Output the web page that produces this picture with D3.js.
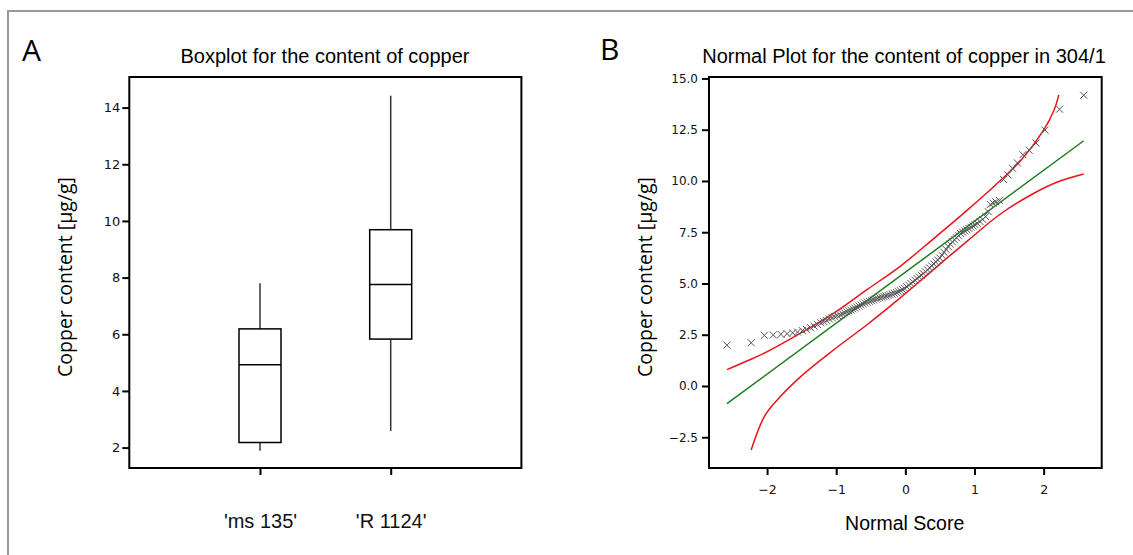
<!DOCTYPE html>
<html>
<head>
<meta charset="utf-8">
<script src="https://cdn.jsdelivr.net/npm/d3@7"></script>
<style>
  body { margin: 0; background: #fff; }
  svg { display: block; }
  .domain { display: none; }
  .tick line { stroke: #000; stroke-width: 2; }
</style>
</head>
<body>
<div id="chart"></div>
<script>
// Panel A: boxplot
const boxCats = ["'ms 135'", "'R 1124'"];
const boxMin = [1.89, 2.59];
const boxQ1 = [2.18, 5.83];
const boxMed = [4.92, 7.76];
const boxQ3 = [6.19, 9.69];
const boxMax = [7.80, 14.42];
const boxTicks = [2, 4, 6, 8, 10, 12, 14];

// Panel B: normal plot (normal score, copper content)
const normScore = [-2.58, -2.23, -2.04, -1.91, -1.80, -1.71, -1.63, -1.56, -1.49, -1.43,
  -1.37, -1.32, -1.27, -1.22, -1.18, -1.14, -1.10, -1.06, -1.02, -0.98,
  -0.94, -0.91, -0.88, -0.85, -0.82, -0.79, -0.76, -0.73, -0.70, -0.67,
  -0.64, -0.61, -0.58, -0.55, -0.52, -0.49, -0.46, -0.43, -0.40, -0.37,
  -0.34, -0.31, -0.28, -0.25, -0.22, -0.19, -0.16, -0.13, -0.10, -0.07,
  -0.04, -0.01, 0.02, 0.05, 0.08, 0.11, 0.14, 0.17, 0.20, 0.23,
  0.26, 0.29, 0.32, 0.35, 0.38, 0.41, 0.44, 0.47, 0.50, 0.53,
  0.56, 0.59, 0.62, 0.65, 0.68, 0.71, 0.74, 0.77, 0.80, 0.83,
  0.86, 0.89, 0.92, 0.95, 0.98, 1.01, 1.04, 1.08, 1.12, 1.16,
  1.20, 1.23, 1.27, 1.31, 1.36, 1.42, 1.48, 1.55, 1.62, 1.70,
  1.79, 1.89, 2.02, 2.23, 2.58];
const copper = [1.99, 2.11, 2.47, 2.49, 2.52, 2.55, 2.59, 2.63, 2.70, 2.76,
  2.84, 2.92, 3.00, 3.08, 3.14, 3.20, 3.27, 3.33, 3.38, 3.43,
  3.47, 3.52, 3.57, 3.62, 3.67, 3.71, 3.76, 3.80, 3.85, 3.90,
  3.95, 4.00, 4.05, 4.09, 4.13, 4.16, 4.20, 4.24, 4.27, 4.30,
  4.33, 4.36, 4.39, 4.42, 4.45, 4.48, 4.52, 4.56, 4.60, 4.65,
  4.70, 4.76, 4.84, 4.92, 5.00, 5.08, 5.16, 5.24, 5.32, 5.40,
  5.48, 5.57, 5.66, 5.76, 5.86, 5.96, 6.05, 6.14, 6.24, 6.38,
  6.52, 6.66, 6.80, 6.92, 7.03, 7.13, 7.23, 7.33, 7.43, 7.50,
  7.56, 7.62, 7.68, 7.74, 7.80, 7.86, 7.93, 8.02, 8.12, 8.26,
  8.50, 8.85, 8.92, 8.98, 9.05, 10.07, 10.30, 10.62, 10.88, 11.28,
  11.50, 11.85, 12.48, 13.50, 14.18];
const fitX = [-2.58, 2.58];
const fitY = [-0.86, 11.96];
const upperX = [-2.58, -2.24, -1.99, -1.51, -1.03, -0.55, -0.07, 0.41, 0.90, 1.28, 1.67, 2.00, 2.15, 2.22];
const upperY = [0.80, 1.29, 1.69, 2.59, 3.57, 4.71, 5.85, 7.19, 8.59, 9.73, 11.00, 12.48, 13.45, 14.20];
const lowerX = [-2.23, -2.04, -1.85, -1.51, -1.03, -0.55, -0.07, 0.41, 0.90, 1.38, 1.86, 2.20, 2.58];
const lowerY = [-3.12, -1.49, -0.67, 0.47, 1.78, 3.00, 4.31, 5.69, 7.08, 8.40, 9.40, 9.95, 10.34];
const normTicksY = [-2.5, 0, 2.5, 5, 7.5, 10, 12.5, 15];
const normTicksX = [-2, -1, 0, 1, 2];

const W = 1133, H = 555;
const svg = d3.select('#chart').append('svg').attr('width', W).attr('height', H);

// outer frame
svg.append('rect').attr('x', 8).attr('y', 11).attr('width', 1140).attr('height', 560)
  .attr('fill', 'none').attr('stroke', '#999').attr('stroke-width', 2);

const sans = '"Liberation Sans", Arial, sans-serif';
const soft = '"Open Sans", "Liberation Sans", sans-serif';
const tickFont = '"DejaVu Sans", sans-serif';

var styleTicks = function(g, family, size) {
  g.selectAll('text')
    .style('font-family', family).style('font-size', size).style('fill', '#111');
};

/* Panel A */
var A = { left: 129.3, right: 521.4, top: 77, bottom: 468 };
var xA = d3.scalePoint().domain(boxCats).range([A.left, A.right]).padding(1);
var yA = d3.scaleLinear().domain([1.28, 15.08]).range([A.bottom, A.top]);

svg.append('g').attr('transform', `translate(${A.left},0)`)
  .call(d3.axisLeft(yA).tickValues(boxTicks).tickSize(7).tickPadding(2))
  .call(styleTicks, tickFont, '13px');
svg.append('g').attr('transform', `translate(0,${A.bottom})`)
  .call(d3.axisBottom(xA).tickSize(7).tickPadding(39))
  .call(styleTicks, sans, '20px');

svg.append('rect').attr('x', A.left).attr('y', A.top)
  .attr('width', A.right - A.left).attr('height', A.bottom - A.top)
  .attr('fill', 'none').attr('stroke', '#000').attr('stroke-width', 2);

var boxW = 42;
var boxes = svg.append('g').selectAll('g').data(boxCats).join('g');
boxes.append('line')
  .attr('x1', function(d) { return xA(d); }).attr('x2', function(d) { return xA(d); })
  .attr('y1', function(d, i) { return yA(boxMax[i]); })
  .attr('y2', function(d, i) { return yA(boxQ3[i]); })
  .attr('stroke', '#333').attr('stroke-width', 1.5);
boxes.append('line')
  .attr('x1', function(d) { return xA(d); }).attr('x2', function(d) { return xA(d); })
  .attr('y1', function(d, i) { return yA(boxQ1[i]); })
  .attr('y2', function(d, i) { return yA(boxMin[i]); })
  .attr('stroke', '#333').attr('stroke-width', 1.5);
boxes.append('rect')
  .attr('x', function(d) { return xA(d) - boxW / 2; })
  .attr('y', function(d, i) { return yA(boxQ3[i]); })
  .attr('width', boxW)
  .attr('height', function(d, i) { return yA(boxQ1[i]) - yA(boxQ3[i]); })
  .attr('fill', 'none').attr('stroke', '#000').attr('stroke-width', 1.5);
boxes.append('line')
  .attr('x1', function(d) { return xA(d) - boxW / 2; })
  .attr('x2', function(d) { return xA(d) + boxW / 2; })
  .attr('y1', function(d, i) { return yA(boxMed[i]); })
  .attr('y2', function(d, i) { return yA(boxMed[i]); })
  .attr('stroke', '#000').attr('stroke-width', 1.5);

svg.append('text').attr('x', 22).attr('y', 60.5).text('A')
  .style('font-family', soft).style('font-size', '30px');
svg.append('text').attr('x', 325).attr('y', 63).attr('text-anchor', 'middle')
  .text('Boxplot for the content of copper')
  .style('font-family', sans).style('font-size', '20px');
svg.append('text').attr('transform', 'translate(72,277) rotate(-90)')
  .attr('text-anchor', 'middle').text('Copper content [µg/g]')
  .style('font-family', soft).style('font-size', '19.5px');

/* Panel B */
var B = { left: 709, right: 1101.7, top: 77, bottom: 468 };
var xB = d3.scaleLinear().domain([-2.84, 2.84]).range([B.left, B.right]);
var yB = d3.scaleLinear().domain([-4.0, 15.07]).range([B.bottom, B.top]);

svg.append('g').attr('transform', `translate(${B.left},0)`)
  .call(d3.axisLeft(yB).tickValues(normTicksY).tickFormat(d3.format('.1f')).tickSize(7).tickPadding(4))
  .call(styleTicks, tickFont, '12px');
svg.append('g').attr('transform', `translate(0,${B.bottom})`)
  .call(d3.axisBottom(xB).tickValues(normTicksX).tickFormat(d3.format('d')).tickSize(7).tickPadding(10))
  .call(styleTicks, tickFont, '12.5px');

svg.append('rect').attr('x', B.left).attr('y', B.top)
  .attr('width', B.right - B.left).attr('height', B.bottom - B.top)
  .attr('fill', 'none').attr('stroke', '#000').attr('stroke-width', 2);

var curve = d3.line()
  .x(function(d) { return xB(d[0]); })
  .y(function(d) { return yB(d[1]); })
  .curve(d3.curveCatmullRom);

svg.append('path').datum(d3.zip(fitX, fitY)).attr('d', curve)
  .attr('fill', 'none').attr('stroke', '#1c7d1c').attr('stroke-width', 1.5);
svg.append('path').datum(d3.zip(upperX, upperY)).attr('d', curve)
  .attr('fill', 'none').attr('stroke', '#e8141a').attr('stroke-width', 1.5);
svg.append('path').datum(d3.zip(lowerX, lowerY)).attr('d', curve)
  .attr('fill', 'none').attr('stroke', '#e8141a').attr('stroke-width', 1.5);

var mk = 3.5;
svg.append('g').selectAll('path').data(d3.zip(normScore, copper)).join('path')
  .attr('d', function(d) {
    var cx = xB(d[0]), cy = yB(d[1]);
    return `M${cx - mk},${cy - mk}L${cx + mk},${cy + mk}M${cx - mk},${cy + mk}L${cx + mk},${cy - mk}`;
  })
  .attr('stroke', '#555').attr('stroke-width', 1).attr('fill', 'none');

svg.append('text').attr('x', 600).attr('y', 60).text('B')
  .style('font-family', soft).style('font-size', '30px');
svg.append('text').attr('x', 904).attr('y', 63).attr('text-anchor', 'middle')
  .text('Normal Plot for the content of copper in 304/1')
  .style('font-family', sans).style('font-size', '20px');
svg.append('text').attr('transform', 'translate(652,277) rotate(-90)')
  .attr('text-anchor', 'middle').text('Copper content [µg/g]')
  .style('font-family', soft).style('font-size', '19.5px');
svg.append('text').attr('x', 904.7).attr('y', 530).attr('text-anchor', 'middle')
  .text('Normal Score')
  .style('font-family', sans).style('font-size', '19.5px');
</script>
</body>
</html>
